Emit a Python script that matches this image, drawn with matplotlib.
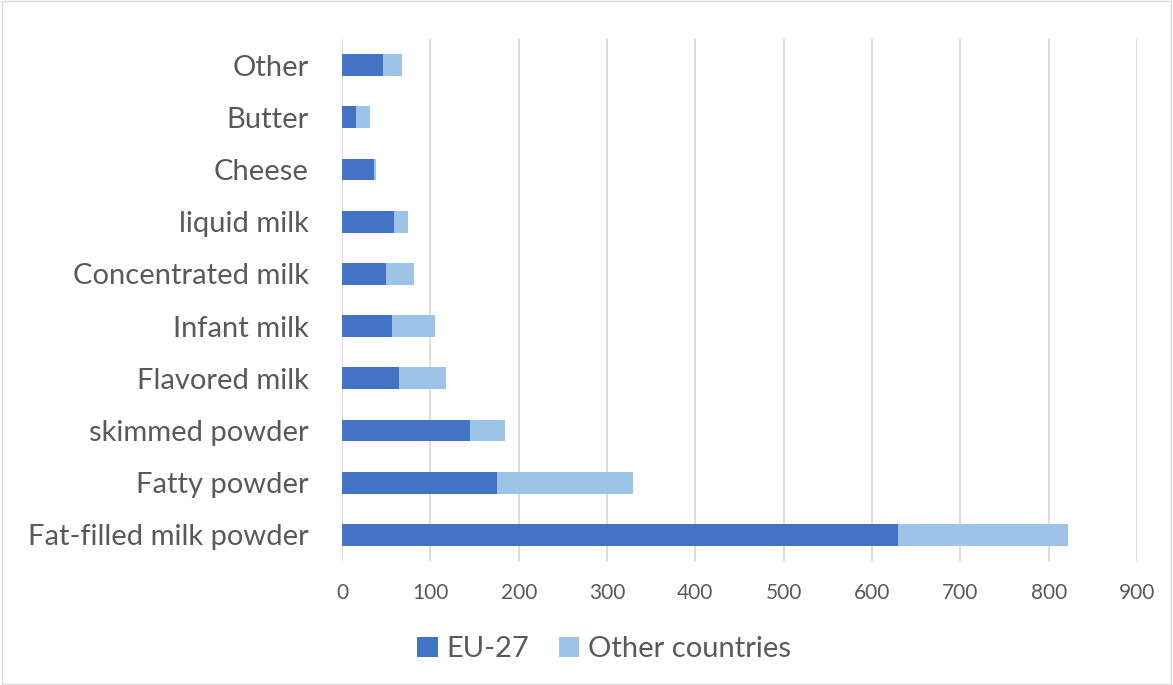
import numpy as np
import matplotlib.pyplot as plt
from matplotlib.patches import Rectangle

plt.rcParams['font.family'] = ['Lato', 'DejaVu Sans']

# Data
categories = ["Fat-filled milk powder", "Fatty powder", "skimmed powder", "Flavored milk",
              "Infant milk", "Concentrated milk", "liquid milk", "Cheese", "Butter", "Other"]
eu27 = [629, 175, 145, 64, 57, 50, 59, 36, 16, 46]
totals = [822, 329, 184, 118, 105, 82, 75, 39, 32, 68]
other = [t - e for t, e in zip(totals, eu27)]

c_eu = "#4472C4"
c_other = "#9DC3E6"
grey = "#595959"

fig = plt.figure(figsize=(11.73, 6.85), dpi=100)
ax = fig.add_axes([0.2916, 0.181, 0.6777, 0.762])

y = np.arange(len(categories))
ax.barh(y, eu27, height=0.42, color=c_eu, label="EU-27", zorder=3)
ax.barh(y, other, left=eu27, height=0.42, color=c_other, label="Other countries", zorder=3)

ax.set_xlim(0, 900)
ax.set_ylim(-0.5, len(categories) - 0.5)
ax.set_xticks(np.arange(0, 901, 100))
ax.set_yticks(y)
ax.set_yticklabels(categories, fontsize=21, color=grey)
ax.tick_params(axis='x', labelsize=15, colors=grey, length=0, pad=16)
ax.tick_params(axis='y', length=0, pad=24)
ax.grid(axis='x', color="#D9D9D9", linewidth=1.3, zorder=0)
for s in ax.spines.values():
    s.set_visible(False)

fig.legend(loc='lower center', bbox_to_anchor=(0.515, -0.005), ncol=2, frameon=False,
           fontsize=21, labelcolor=grey, handlelength=0.7, handleheight=0.7,
           columnspacing=1.0, handletextpad=0.3)

fig.add_artist(Rectangle((0.002, 0.002), 0.996, 0.996, transform=fig.transFigure,
                         fill=False, edgecolor="#D9D9D9", linewidth=1))

fig.savefig("out.png", dpi=100)
